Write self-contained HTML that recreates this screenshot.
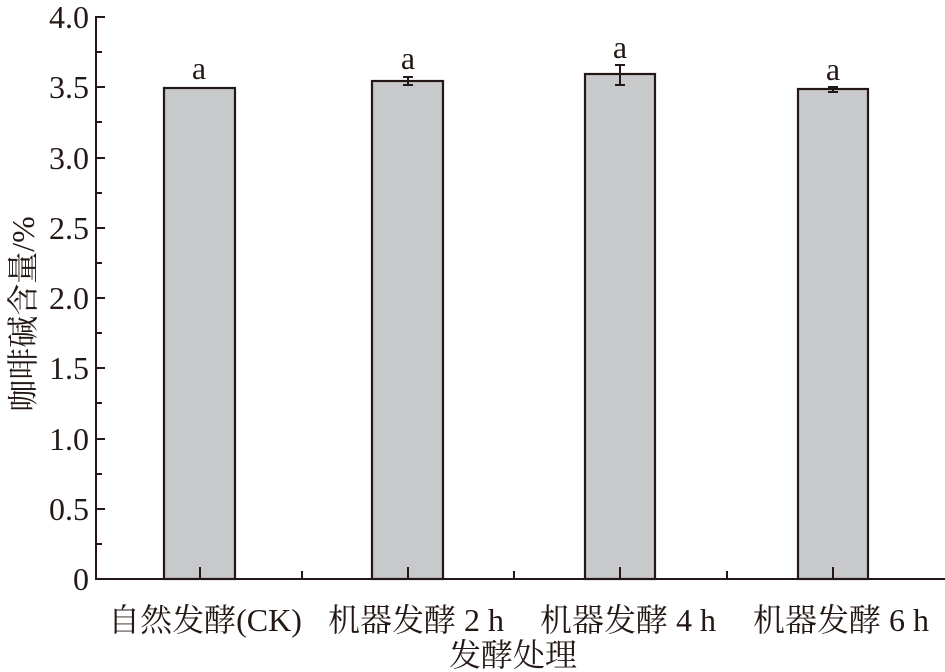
<!DOCTYPE html>
<html><head><meta charset="utf-8"><style>
body{margin:0;background:#fff}
svg{display:block}
text{font-family:"Liberation Serif","Noto Serif CJK SC",serif;fill:#231815}
</style></head><body>
<svg width="945" height="672" viewBox="0 0 945 672" xmlns="http://www.w3.org/2000/svg">
<g stroke="#231815" stroke-width="2.2" fill="#c8c9ca">
<rect x="164" y="88" width="71" height="491"/>
<rect x="372" y="81" width="71" height="498"/>
<rect x="585" y="74" width="70" height="505"/>
<rect x="798" y="89" width="70" height="490"/>
</g>
<g stroke="#231815" stroke-width="2" fill="none">
<path d="M96 16V579H945"/>
<path d="M96 17h9M96 87h9M96 158h9M96 228h9M96 298h9M96 368h9M96 439h9M96 509h9"/>
<path d="M96 52h6M96 122h6M96 193h6M96 263h6M96 333h6M96 403h6M96 474h6M96 544h6"/>
<path d="M200 579v-12M408 579v-12M620 579v-12M833 579v-12"/>
<path d="M302 579v-8M514 579v-8M727 579v-8"/>
<path d="M408 77v8M403 77h10M403 85h10"/>
<path d="M620 65v20M615 65h10M615 85h10"/>
<path d="M833 87v5M828 87h10M828 92h10"/>
</g>
<g font-size="32" text-anchor="end">
<text x="89" y="28">4.0</text><text x="89" y="98">3.5</text><text x="89" y="169">3.0</text>
<text x="89" y="239">2.5</text><text x="89" y="309">2.0</text><text x="89" y="379">1.5</text>
<text x="89" y="450">1.0</text><text x="89" y="520">0.5</text><text x="89" y="590">0</text>
</g>
<g font-size="32" text-anchor="middle">
<text x="199" y="79">a</text><text x="408" y="69">a</text><text x="620" y="58">a</text><text x="833" y="80">a</text>
<text x="205" y="631">自然发酵(CK)</text>
<text x="416" y="631">机器发酵 2 h</text>
<text x="628" y="631">机器发酵 4 h</text>
<text x="841" y="631">机器发酵 6 h</text>
<text x="513" y="666">发酵处理</text>
<text transform="translate(34,314) rotate(-90)">咖啡碱含量/%</text>
</g>
</svg>
</body></html>
